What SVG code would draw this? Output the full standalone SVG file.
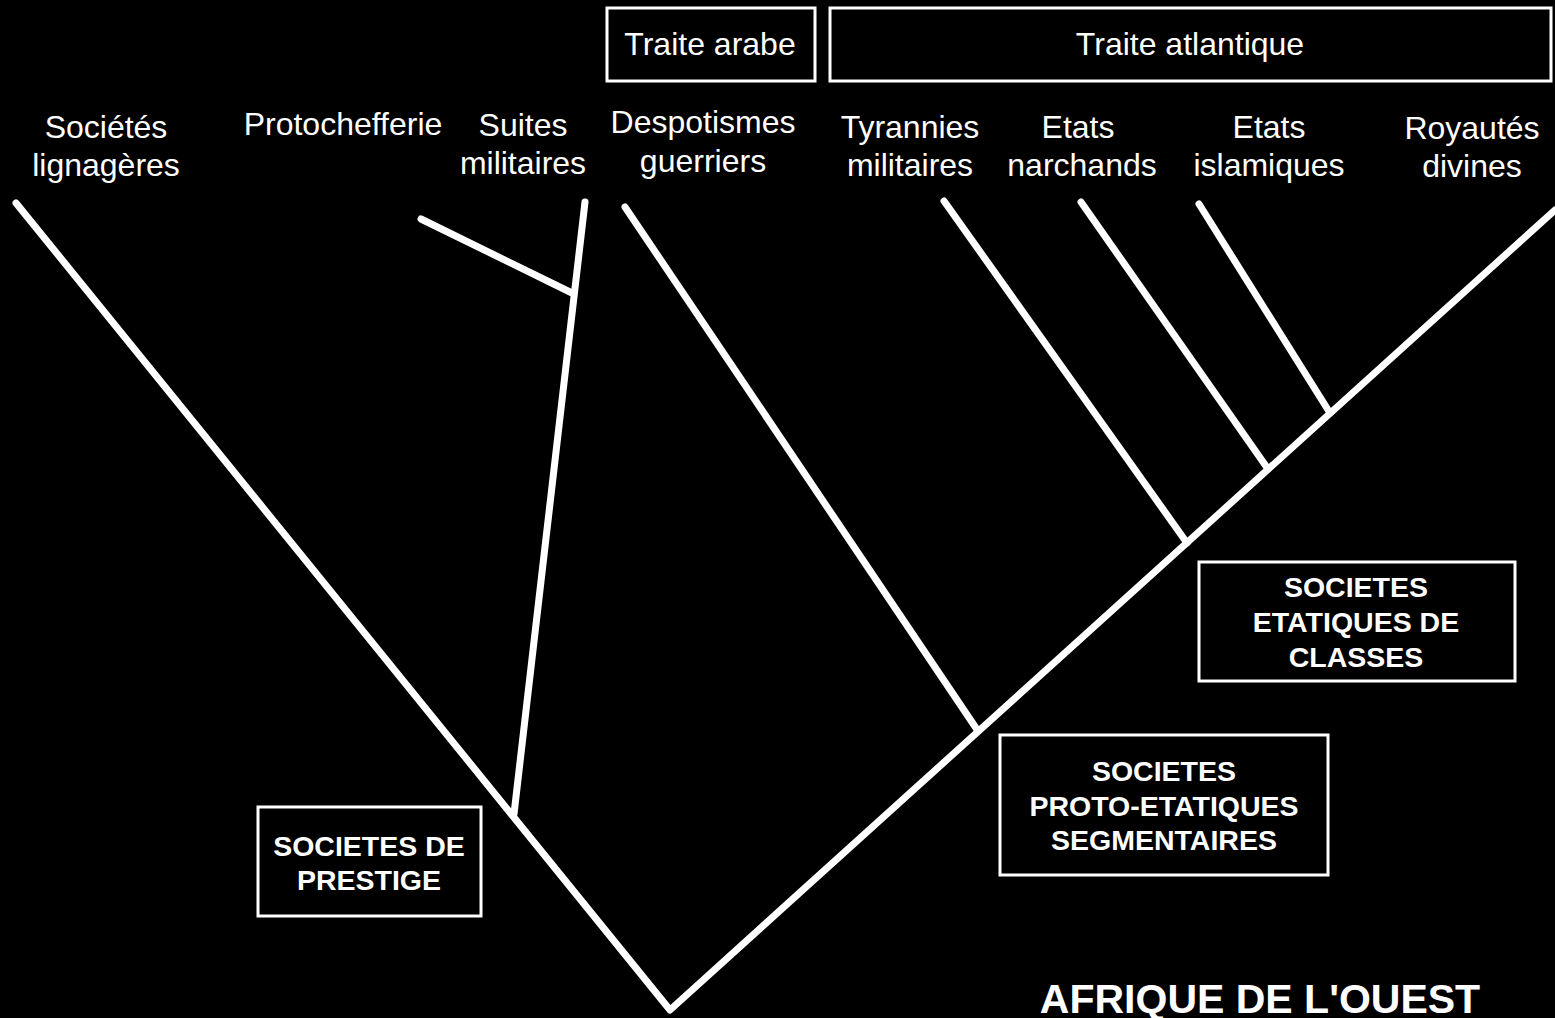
<svg xmlns="http://www.w3.org/2000/svg" width="1555" height="1018" viewBox="0 0 1555 1018">
<style>
.bg{fill:#000}
.ln{stroke:#fff;stroke-width:7;stroke-linecap:round;stroke-linejoin:round;fill:none}
.bx{fill:#000;stroke:#fff;stroke-width:3}
.t{fill:#fff;font-family:"Liberation Sans",Arial,sans-serif;font-size:32px;text-anchor:middle}
.b{fill:#fff;font-family:"Liberation Sans",Arial,sans-serif;font-size:28.5px;font-weight:bold;text-anchor:middle}
.big{fill:#fff;font-family:"Liberation Sans",Arial,sans-serif;font-size:41px;font-weight:bold;text-anchor:middle}
</style>
<rect class="bg" x="0" y="0" width="1555" height="1018"/>
<g id="connectors">
<polyline class="ln" points="16,203 670,1010 1555,210"/>
<line class="ln" x1="585" y1="202" x2="514" y2="814"/>
<line class="ln" x1="421" y1="219" x2="572" y2="293"/>
<line class="ln" x1="625" y1="207" x2="978" y2="731"/>
<line class="ln" x1="944" y1="201" x2="1187" y2="543"/>
<line class="ln" x1="1081" y1="202" x2="1268" y2="469"/>
<line class="ln" x1="1199" y1="204" x2="1330" y2="413"/>
</g>
<g id="traite-arabe"><rect class="bx" x="607" y="8" width="208" height="73"/><text class="t" x="710" y="55">Traite arabe</text></g>
<g id="traite-atlantique"><rect class="bx" x="830" y="8" width="721" height="73"/><text class="t" x="1190" y="55">Traite atlantique</text></g>
<g id="societes-lignageres"><text class="t" x="106" y="138">Sociétés</text><text class="t" x="106" y="176">lignagères</text></g>
<g id="protochefferie"><text class="t" x="343" y="135">Protochefferie</text></g>
<g id="suites-militaires"><text class="t" x="523" y="136">Suites</text><text class="t" x="523" y="174">militaires</text></g>
<g id="despotismes-guerriers"><text class="t" x="703" y="133">Despotismes</text><text class="t" x="703" y="172">guerriers</text></g>
<g id="tyrannies-militaires"><text class="t" x="910" y="138">Tyrannies</text><text class="t" x="910" y="176">militaires</text></g>
<g id="etats-marchands"><text class="t" x="1078" y="138">Etats</text><text class="t" x="1082" y="176">narchands</text></g>
<g id="etats-islamiques"><text class="t" x="1269" y="138">Etats</text><text class="t" x="1269" y="176">islamiques</text></g>
<g id="royautes-divines"><text class="t" x="1472" y="139">Royautés</text><text class="t" x="1472" y="177">divines</text></g>
<g id="societes-prestige"><rect class="bx" x="258" y="807" width="223" height="109"/><text class="b" x="369" y="856">SOCIETES DE</text><text class="b" x="369" y="890">PRESTIGE</text></g>
<g id="societes-proto"><rect class="bx" x="1000" y="735" width="328" height="140"/><text class="b" x="1164" y="781">SOCIETES</text><text class="b" x="1164" y="816">PROTO-ETATIQUES</text><text class="b" x="1164" y="850">SEGMENTAIRES</text></g>
<g id="societes-etatiques"><rect class="bx" x="1199" y="562" width="316" height="119"/><text class="b" x="1356" y="597">SOCIETES</text><text class="b" x="1356" y="632">ETATIQUES DE</text><text class="b" x="1356" y="667">CLASSES</text></g>
<g id="afrique"><text class="big" x="1260" y="1013">AFRIQUE DE L'OUEST</text></g>
</svg>
